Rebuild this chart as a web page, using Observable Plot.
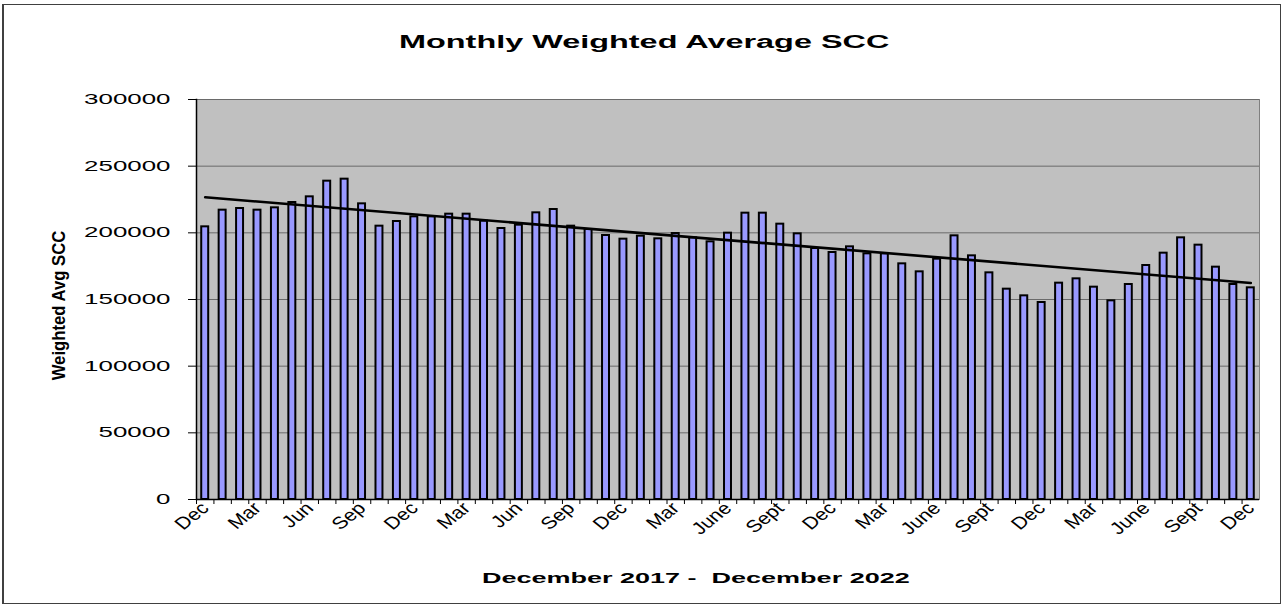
<!DOCTYPE html>
<html>
<head>
<meta charset="utf-8">
<script src="https://cdn.jsdelivr.net/npm/d3@7"></script>
<script src="https://cdn.jsdelivr.net/npm/@observablehq/plot@0.6"></script>
<style>
  html, body { margin: 0; padding: 0; background: #fff; }
  #wrap { position: relative; width: 1288px; height: 607px; overflow: hidden; font-family: "Liberation Sans", Arial, sans-serif; }
  #border { position: absolute; left: 2px; top: 4px; width: 1276px; height: 598px; border: 1px solid #404040; border-left-width: 2px; box-sizing: content-box; }
  #chart { position: absolute; left: 0; top: 0; }
  .stretch { position: absolute; left: 0; width: 1288px; text-align: center; white-space: pre; line-height: 1; }
  .stretch span { display: inline-block; transform: scaleX(1.8); transform-origin: 50% 50%; font-weight: bold; color: #000; }
  #title { top: 33px; }
  #title span { font-size: 18px; }
  #xtitle { top: 570px; left: 52px; }
  #xtitle span { font-size: 15px; }
</style>
</head>
<body>
<div id="wrap">
  <div id="border"></div>
  <div id="chart"></div>
  <div id="title" class="stretch"><span>Monthly Weighted Average SCC</span></div>
  <div id="xtitle" class="stretch"><span>December 2017 -  December 2022</span></div>
</div>
<script>
// Months Dec 2017 .. Dec 2022
const months = [
  "Dec 2017","Jan 2018","Feb 2018","Mar 2018","Apr 2018","May 2018","Jun 2018","Jul 2018","Aug 2018","Sep 2018","Oct 2018","Nov 2018",
  "Dec 2018","Jan 2019","Feb 2019","Mar 2019","Apr 2019","May 2019","Jun 2019","Jul 2019","Aug 2019","Sep 2019","Oct 2019","Nov 2019",
  "Dec 2019","Jan 2020","Feb 2020","Mar 2020","Apr 2020","May 2020","Jun 2020","Jul 2020","Aug 2020","Sep 2020","Oct 2020","Nov 2020",
  "Dec 2020","Jan 2021","Feb 2021","Mar 2021","Apr 2021","May 2021","Jun 2021","Jul 2021","Aug 2021","Sep 2021","Oct 2021","Nov 2021",
  "Dec 2021","Jan 2022","Feb 2022","Mar 2022","Apr 2022","May 2022","Jun 2022","Jul 2022","Aug 2022","Sep 2022","Oct 2022","Nov 2022",
  "Dec 2022"
];
const scc = [
  204500, 217000, 218250, 217000, 218750, 222750, 227000, 238750, 240250, 221750, 205000, 208500,
  212000, 212000, 214000, 214000, 208750, 203250, 205750, 215000, 217500, 205000, 202500, 198000,
  195250, 197500, 195500, 199500, 196250, 193250, 199750, 214750, 214750, 206500, 199250, 188250,
  185250, 189500, 184250, 184250, 176750, 170750, 180250, 197750, 182750, 170000, 157750, 152750,
  147750, 162250, 165500, 159250, 149000, 161250, 175500, 184750, 196250, 190750, 174250, 161250,
  158750
];
const tickLabels = ["Dec","Mar","Jun","Sep","Dec","Mar","Jun","Sep","Dec","Mar","June","Sept",
                    "Dec","Mar","June","Sept","Dec","Mar","June","Sept","Dec"];
const yTicks = [0, 50000, 100000, 150000, 200000, 250000, 300000];
const yLabel = "Weighted Avg SCC";

const data = months.map((m, i) => ({i, month: m, value: scc[i]}));
const idx = d3.range(months.length);

const W = 1288, H = 607, mL = 196, mR = 29, mT = 99, mB = 108;
const step = (W - mL - mR) / months.length;

const chart = Plot.plot({
  width: W,
  height: H,
  marginLeft: mL,
  marginRight: mR,
  marginTop: mT,
  marginBottom: mB,
  style: {fontFamily: "'Liberation Sans', Arial, sans-serif", background: "transparent", color: "#000"},
  x: {type: "band", domain: idx, paddingInner: 0.6, paddingOuter: 0.3, round: false, axis: null},
  y: {domain: [0, 300000], axis: null},
  marks: [
    Plot.frame({fill: "#c0c0c0", stroke: "#808080"}),
    Plot.gridY(yTicks, {stroke: "#6a6a6a", strokeOpacity: 1, strokeWidth: 1}),
    Plot.barY(data, {x: "i", y: "value", fill: "#9999ff", stroke: "#000", strokeWidth: 2}),
    Plot.linearRegressionY(data, {x: "i", y: "value", ci: 0, stroke: "#000", strokeWidth: 2.6}),
    Plot.ruleY([0], {stroke: "#000", strokeWidth: 1.5}),
    Plot.frame({anchor: "left", stroke: "#000", strokeWidth: 1.5}),
    Plot.axisY(yTicks, {tickSize: 8, tickPadding: 18, fontSize: 14, tickFormat: d => String(d), label: null, stroke: "#000"}),
    Plot.axisX(idx, {tickSize: 5, tickFormat: () => "", dx: -step / 2, label: null, stroke: "#000"}),
    Plot.axisX(d3.range(0, months.length, 3), {tickSize: 0, tickPadding: 6, tickRotate: -45, fontSize: 17,
      tickFormat: i => tickLabels[i / 3], label: null}),
    Plot.text([yLabel], {frameAnchor: "left", dx: -138, dy: 6, rotate: -90, textAnchor: "middle",
      fontSize: 19, fontWeight: "bold", fill: "#000"})
  ]
});
document.getElementById("chart").appendChild(chart);

// Horizontal stretch of the reference's text
chart.querySelectorAll('g[aria-label="y-axis tick label"] text').forEach(t => {
  const w = t.getComputedTextLength();
  t.setAttribute("textLength", (w * 1.85).toFixed(1));
  t.setAttribute("lengthAdjust", "spacingAndGlyphs");
});
chart.querySelectorAll('g[aria-label="x-axis tick label"] text').forEach(t => {
  const tr = t.getAttribute("transform");
  if (tr && tr.includes("rotate(")) t.setAttribute("transform", tr.replace("rotate(", "scale(1.25,1) rotate("));
});
// Condensed vertical axis title
chart.querySelectorAll('g[aria-label="text"] text').forEach(t => {
  if (t.textContent === yLabel) {
    const tr = t.getAttribute("transform");
    if (tr) t.setAttribute("transform", tr + " scale(0.88,1)");
  }
});
</script>
</body>
</html>
